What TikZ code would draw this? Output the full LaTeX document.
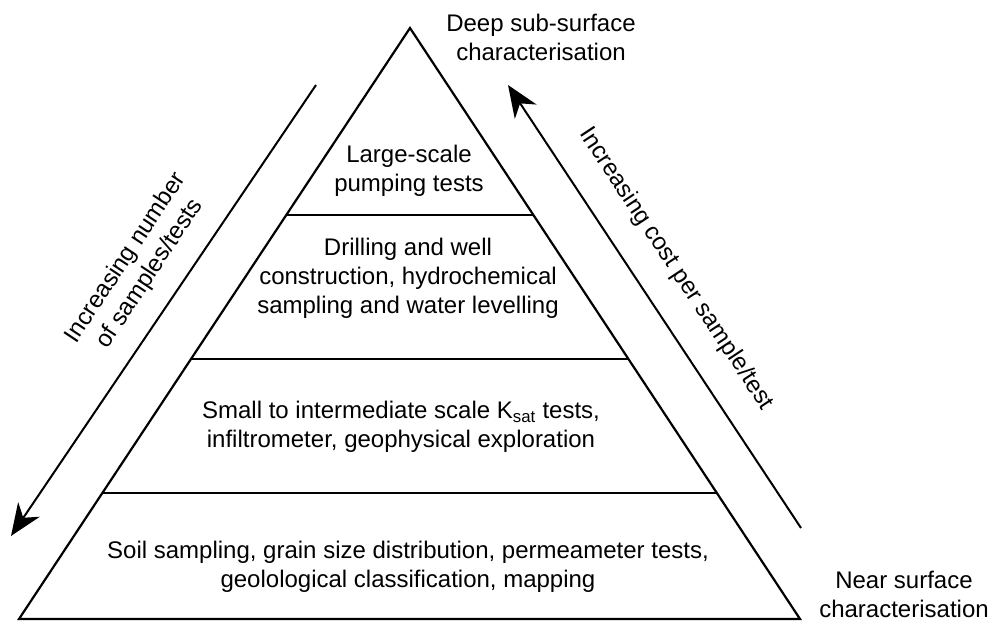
\documentclass[tikz,border=0pt]{standalone}
\usepackage{fontspec}
\setmainfont{Liberation Sans}
\usetikzlibrary{arrows.meta,calc}
\begin{document}
\begin{tikzpicture}[x=1pt,y=-1pt,
  lbl/.style={font=\fontsize{24}{29}\selectfont, align=center, inner sep=0pt},
  edge/.style={line width=2.2pt, line join=miter},
  arr/.style={line width=2pt, -{Stealth[length=32pt,width=26pt,inset=10pt]}}]
\useasboundingbox (0,0) rectangle (993,621);
\coordinate (A) at (410,28);
\coordinate (BL) at (19,619);
\coordinate (BR) at (800,619);
\draw[edge] (A) -- (BL) -- (BR) -- cycle;
\draw[edge] ($(A)!0.3159!(BL)$) coordinate (h1l) -- ($(A)!0.3159!(BR)$) coordinate (h1r);
\draw[edge] ($(A)!0.5596!(BL)$) coordinate (h2l) -- ($(A)!0.5596!(BR)$) coordinate (h2r);
\draw[edge] ($(A)!0.7863!(BL)$) coordinate (h3l) -- ($(A)!0.7863!(BR)$) coordinate (h3r);
\coordinate (L1) at (316,85);
\coordinate (L2) at (11,536);
\draw[arr] (L1) -- (L2);
\coordinate (R1) at (801,528);
\coordinate (R2) at (508,85);
\draw[arr] (R1) -- (R2);
\node[lbl] (deep) at (541,37) {Deep sub-surface\\characterisation};
\node[lbl] (t1) at (409,171) {Large-scale\\pumping tests};
\node[lbl] (t2) at (408,278) {Drilling and well\\construction, hydrochemical\\sampling and water levelling};
\node[lbl] (t3) at (401,427) {Small to intermediate scale K\textsubscript{sat} tests,\\infiltrometer, geophysical exploration};
\node[lbl] (t4) at (408,567) {Soil sampling, grain size distribution, permeameter tests,\\geolological classification, mapping};
\node[lbl] (near) at (904,594) {Near surface\\characterisation};
\node[lbl, rotate=56.5] (left) at (138,266) {Increasing number\\of samples/tests};
\node[lbl, rotate=-56.5] (right) at (676,269) {Increasing cost per sample/test};
\end{tikzpicture}
\end{document}
